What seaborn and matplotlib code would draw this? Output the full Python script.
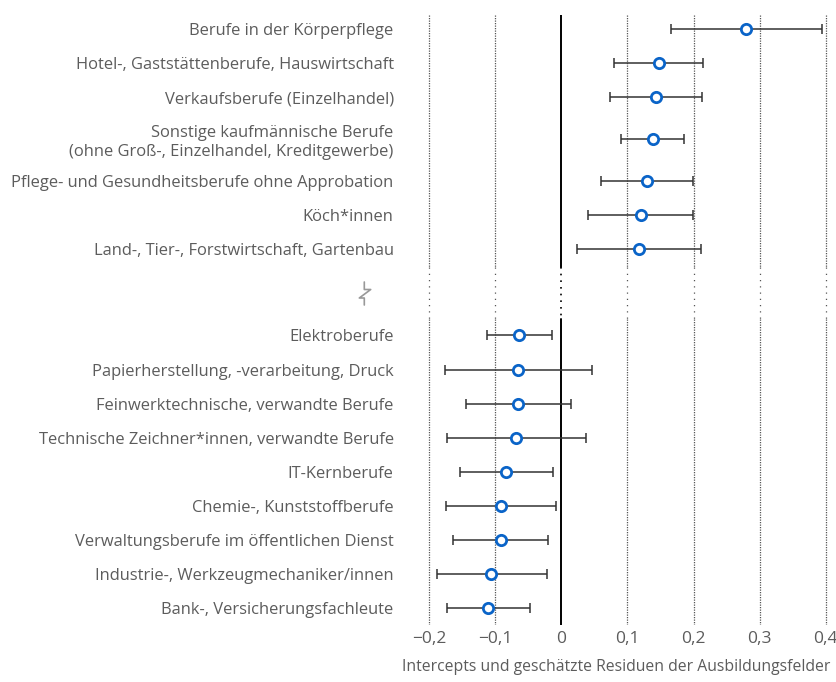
import numpy as np
import matplotlib
matplotlib.use("Agg")
import matplotlib.pyplot as plt
import seaborn as sns
import pandas as pd

# Ausbildungsfelder, oberer Block (positive Residuen)
top_labels = [
    'Berufe in der Körperpflege',
    'Hotel-, Gaststättenberufe, Hauswirtschaft',
    'Verkaufsberufe (Einzelhandel)',
    'Sonstige kaufmännische Berufe\n(ohne Groß-, Einzelhandel, Kreditgewerbe)',
    'Pflege- und Gesundheitsberufe ohne Approbation',
    'Köch*innen',
    'Land-, Tier-, Forstwirtschaft, Gartenbau',
]
top_est = [0.280, 0.147, 0.143, 0.138, 0.130, 0.120, 0.118]
top_low = [0.166, 0.080, 0.073, 0.090, 0.060, 0.040, 0.024]
top_high = [0.394, 0.214, 0.213, 0.186, 0.199, 0.199, 0.211]

# unterer Block (negative Residuen)
bottom_labels = [
    'Elektroberufe',
    'Papierherstellung, -verarbeitung, Druck',
    'Feinwerktechnische, verwandte Berufe',
    'Technische Zeichner*innen, verwandte Berufe',
    'IT-Kernberufe',
    'Chemie-, Kunststoffberufe',
    'Verwaltungsberufe im öffentlichen Dienst',
    'Industrie-, Werkzeugmechaniker/innen',
    'Bank-, Versicherungsfachleute',
]
bottom_est = [-0.064, -0.065, -0.065, -0.069, -0.084, -0.091, -0.092, -0.106, -0.111]
bottom_low = [-0.113, -0.177, -0.144, -0.173, -0.154, -0.174, -0.164, -0.189, -0.173]
bottom_high = [-0.014, 0.047, 0.014, 0.037, -0.013, -0.008, -0.021, -0.022, -0.047]

xticks = [-0.2, -0.1, 0, 0.1, 0.2, 0.3, 0.4]
xlabel = 'Intercepts und geschätzte Residuen der Ausbildungsfelder'

sns.set_style("white")
plt.rcParams['font.family'] = ['Open Sans', 'DejaVu Sans']
text_col = '#5c5c5c'

# y-Positionen: zweizeilige Labels bekommen etwas mehr Platz, Lücke für den Achsenbruch
pos = []
y = 0.0
for i, lab in enumerate(top_labels):
    extra = 0.235 if '\n' in lab else 0.0
    if i > 0:
        y += 1 + extra
    pos.append(y)
    if extra:
        y += extra
last_top = pos[-1]
y = last_top + 2.53
for i, lab in enumerate(bottom_labels):
    if i > 0:
        y += 1
    pos.append(y)

df = pd.DataFrame({
    'label': top_labels + bottom_labels,
    'est': top_est + bottom_est,
    'low': top_low + bottom_low,
    'high': top_high + bottom_high,
    'pos': pos,
})

fig, ax = plt.subplots(figsize=(8.37, 6.82), dpi=100)
fig.subplots_adjust(left=427 / 837, right=828 / 837, top=1 - 15 / 682, bottom=1 - 625 / 682)

ylim_top = -0.41
ylim_bot = pos[-1] + 0.5
brk_a = last_top + 0.53
brk_b = pos[len(top_labels)] - 0.47

# Gitterlinien mit Bruch
for xv in xticks:
    if xv == 0:
        for a, b in [(ylim_top, brk_a), (brk_b, ylim_bot)]:
            ax.plot([0, 0], [a, b], color='black', lw=1.4, zorder=1)
        ax.plot([0, 0], [brk_a, brk_b], color='black', lw=1.2, ls=(0, (1, 3)), zorder=1)
    else:
        for a, b in [(ylim_top, brk_a), (brk_b, ylim_bot)]:
            ax.plot([xv, xv], [a, b], color='#555555', lw=0.9, ls=(0, (1, 1)), zorder=1)
        ax.plot([xv, xv], [brk_a, brk_b], color='#555555', lw=0.9, ls=(0, (1, 4)), zorder=1)

ax.errorbar(df['est'], df['pos'],
            xerr=[df['est'] - df['low'], df['high'] - df['est']],
            fmt='none', ecolor='#333333', elinewidth=1.1, capsize=3.5, capthick=1.1, zorder=2)
sns.scatterplot(data=df, x='est', y='pos', ax=ax, s=55, marker='o',
                facecolor='white', edgecolor='#0a64c8', linewidth=2, zorder=3)

ax.set_xlim(-0.2035, 0.4035)
ax.set_ylim(ylim_bot, ylim_top)
ax.set_xticks(xticks)
ax.set_xticklabels([('0' if v == 0 else f'{v:.1f}'.replace('.', ',').replace('-', '\u2212')) for v in xticks])
ax.set_yticks(df['pos'])
ax.set_yticklabels(df['label'])
ax.tick_params(axis='y', length=0, pad=24, labelsize=11.9, labelcolor=text_col)
ax.tick_params(axis='x', length=0, pad=4, labelsize=12.5, labelcolor=text_col)
for sp in ax.spines.values():
    sp.set_visible(False)
ax.set_xlabel('')
ax.set_ylabel('')

fig.text(830 / 837, 1 - 667 / 682, xlabel, ha='right', va='center', fontsize=11.3, color=text_col)

# Bruchzeichen
bx = [364.3, 364.3, 370.7, 359.3, 364.3, 364.3]
by = [282, 289.5, 289.5, 298, 298, 305]
fig.add_artist(matplotlib.lines.Line2D([v / 837 for v in bx], [1 - v / 682 for v in by],
                                       color='#999999', lw=1.2, transform=fig.transFigure))

fig.savefig('out.png', dpi=100)
